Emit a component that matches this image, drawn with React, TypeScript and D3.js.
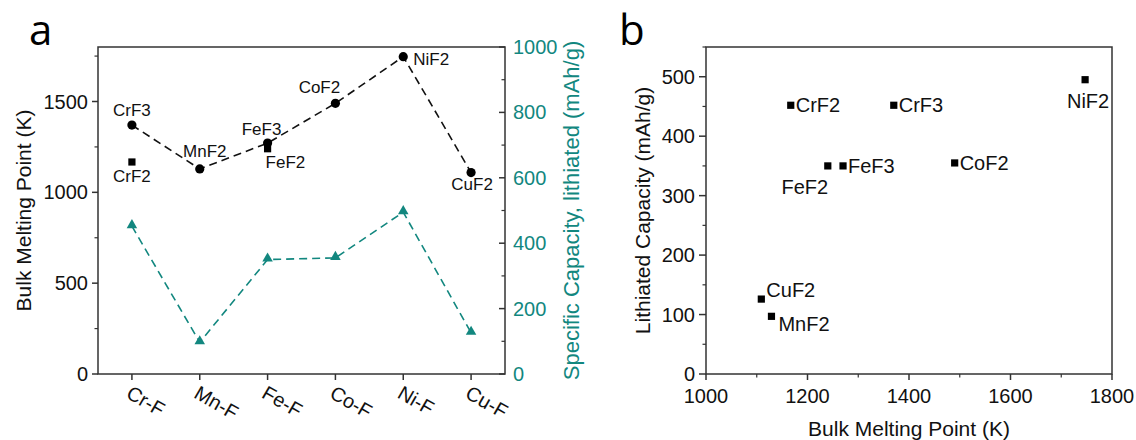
import React from "react";
import * as d3 from "d3";

// panel a
const categories = ["Cr-F", "Mn-F", "Fe-F", "Co-F", "Ni-F", "Cu-F"];
const lineNames = ["CrF3", "MnF2", "FeF3", "CoF2", "NiF2", "CuF2"];
const lineMelt = [1370, 1129, 1271, 1490, 1747, 1109];
const extraNames = ["CrF2", "FeF2"];
const extraCats = ["Cr-F", "Fe-F"];
const extraMelt = [1167, 1240];
const capacity = [452, 97, 350, 355, 495, 126];

// panel b
const compounds = ["CrF2", "CrF3", "MnF2", "FeF2", "FeF3", "CoF2", "NiF2", "CuF2"];
const bMelt = [1167, 1370, 1129, 1240, 1270, 1490, 1747, 1109];
const bCap = [452, 452, 97, 350, 350, 355, 495, 126];

const TEAL = "#12877f";
const FONT = "'Liberation Sans', Arial, sans-serif";

// label offsets (dx, dy, anchor)
const aLabel: Record<string, [number, number, string]> = {
  CrF3: [0, -9, "middle"],
  CrF2: [0, 20, "middle"],
  MnF2: [5, -12, "middle"],
  FeF3: [-6, -8, "middle"],
  FeF2: [-2, 19, "start"],
  CoF2: [-16, -10, "middle"],
  NiF2: [10, 8, "start"],
  CuF2: [1, 17, "middle"],
};
const bLabel: Record<string, [number, number, string]> = {
  CrF2: [5, 7, "start"],
  CrF3: [5, 7, "start"],
  NiF2: [3, 28, "middle"],
  FeF3: [5, 7, "start"],
  FeF2: [-23, 28, "middle"],
  CoF2: [5, 7, "start"],
  CuF2: [5, -2, "start"],
  MnF2: [7, 15, "start"],
};

function App() {
  const A = { l: 98, r: 505, t: 47, b: 374 };
  const B = { l: 706, r: 1112, t: 47, b: 374 };

  const x = d3.scalePoint().domain(categories).range([A.l, A.r]).padding(0.5);
  const yL = d3.scaleLinear().domain([0, 1800]).range([A.b, A.t]);
  const yR = d3.scaleLinear().domain([0, 1000]).range([A.b, A.t]);

  const bx = d3.scaleLinear().domain([1000, 1800]).range([B.l, B.r]);
  const by = d3.scaleLinear().domain([0, 550]).range([B.b, B.t]);

  const meltPath = d3
    .line<number>()
    .x((_, i) => x(categories[i])!)
    .y((d) => yL(d))(lineMelt);
  const capPath = d3
    .line<number>()
    .x((_, i) => x(categories[i])!)
    .y((d) => yR(d))(capacity);
  const tri = d3.symbol(d3.symbolTriangle, 48)();

  const leftMajor = [0, 500, 1000, 1500];
  const leftMinor = [250, 750, 1250, 1750];
  const rightMajor = yR.ticks(5);
  const rightMinor = rightMajor.slice(0, -1).map((v) => v + 100);
  const bYMajor = by.ticks(5).filter((v) => v <= 500);
  const bYMinor = bYMajor.map((v) => v + 50);
  const bXMajor = bx.ticks(4);
  const bXMinor = bXMajor.slice(0, -1).map((v) => v + 100);

  const txt = { fontFamily: FONT, fill: "#111" };
  const letterFont = "'Open Sans', 'DejaVu Sans', sans-serif";

  return (
    <svg
      width={1136}
      height={440}
      style={{ position: "absolute", left: 0, top: 0, background: "#fff" }}
    >
      {/* panel letters */}
      <text x={29} y={45} fontSize={42} fontFamily={letterFont} fill="#000">
        a
      </text>
      <text x={619} y={45} fontSize={42} fontFamily={letterFont} fill="#000">
        b
      </text>

      {/* ===== panel a ===== */}
      <rect x={A.l} y={A.t} width={A.r - A.l} height={A.b - A.t} fill="none" stroke="#333" strokeWidth={1.5} />
      {leftMajor.map((v) => (
        <g key={"lm" + v}>
          <line x1={A.l - 6} x2={A.l} y1={yL(v)} y2={yL(v)} stroke="#333" strokeWidth={1.5} />
          <text {...txt} x={A.l - 10} y={yL(v) + 7} fontSize={20} textAnchor="end">
            {v}
          </text>
        </g>
      ))}
      {leftMinor.map((v) => (
        <line key={"ln" + v} x1={A.l - 3.5} x2={A.l} y1={yL(v)} y2={yL(v)} stroke="#333" strokeWidth={1.2} />
      ))}
      {rightMajor.map((v) => (
        <g key={"rm" + v}>
          <line x1={A.r - 6} x2={A.r} y1={yR(v)} y2={yR(v)} stroke="#333" strokeWidth={1.5} />
          <text x={A.r + 8} y={yR(v) + 7} fontSize={20} fontFamily={FONT} fill={TEAL}>
            {v}
          </text>
        </g>
      ))}
      {rightMinor.map((v) => (
        <line key={"rn" + v} x1={A.r - 3.5} x2={A.r} y1={yR(v)} y2={yR(v)} stroke="#333" strokeWidth={1.2} />
      ))}
      {categories.map((c) => (
        <g key={c}>
          <line x1={x(c)} x2={x(c)} y1={A.b} y2={A.b + 6} stroke="#333" strokeWidth={1.5} />
          <text
            {...txt}
            fontSize={20}
            transform={`translate(${x(c)! - 7},${A.b + 23}) rotate(30)`}
          >
            {c}
          </text>
        </g>
      ))}
      <text
        {...txt}
        fontSize={21}
        textAnchor="middle"
        transform={`translate(31,${(A.t + A.b) / 2}) rotate(-90)`}
      >
        Bulk Melting Point (K)
      </text>
      <text
        fontFamily={FONT}
        fill={TEAL}
        fontSize={22}
        textAnchor="middle"
        transform={`translate(579,${(A.t + A.b) / 2}) rotate(-90)`}
      >
        Specific Capacity, lithiated (mAh/g)
      </text>

      <path d={capPath!} fill="none" stroke={TEAL} strokeWidth={1.6} strokeDasharray="8 5" />
      {capacity.map((v, i) => (
        <path key={"t" + i} d={tri!} transform={`translate(${x(categories[i])},${yR(v) - 1})`} fill={TEAL} />
      ))}

      <path d={meltPath!} fill="none" stroke="#111" strokeWidth={1.6} strokeDasharray="8 5" />
      {lineMelt.map((v, i) => (
        <circle key={"c" + i} cx={x(categories[i])} cy={yL(v)} r={4.6} fill="#000" />
      ))}
      {extraMelt.map((v, i) => (
        <rect key={"s" + i} x={x(extraCats[i])! - 3.6} y={yL(v) - 3.6} width={7.2} height={7.2} fill="#000" />
      ))}
      {lineMelt.map((v, i) => {
        const [dx, dy, an] = aLabel[lineNames[i]];
        return (
          <text key={"la" + i} {...txt} fontSize={17} x={x(categories[i])! + dx} y={yL(v) + dy} textAnchor={an}>
            {lineNames[i]}
          </text>
        );
      })}
      {extraMelt.map((v, i) => {
        const [dx, dy, an] = aLabel[extraNames[i]];
        return (
          <text key={"le" + i} {...txt} fontSize={17} x={x(extraCats[i])! + dx} y={yL(v) + dy} textAnchor={an}>
            {extraNames[i]}
          </text>
        );
      })}

      {/* ===== panel b ===== */}
      <rect x={B.l} y={B.t} width={B.r - B.l} height={B.b - B.t} fill="none" stroke="#333" strokeWidth={1.5} />
      {bYMajor.map((v) => (
        <g key={"bym" + v}>
          <line x1={B.l - 7} x2={B.l} y1={by(v)} y2={by(v)} stroke="#333" strokeWidth={1.5} />
          <text {...txt} x={B.l - 11} y={by(v) + 7} fontSize={20} textAnchor="end">
            {v}
          </text>
        </g>
      ))}
      {bYMinor.map((v) => (
        <line key={"byn" + v} x1={B.l - 3.5} x2={B.l} y1={by(v)} y2={by(v)} stroke="#333" strokeWidth={1.2} />
      ))}
      {bXMajor.map((v) => (
        <g key={"bxm" + v}>
          <line x1={bx(v)} x2={bx(v)} y1={B.b} y2={B.b + 6} stroke="#333" strokeWidth={1.5} />
          <text {...txt} x={bx(v)} y={B.b + 29} fontSize={20} textAnchor="middle">
            {v}
          </text>
        </g>
      ))}
      {bXMinor.map((v) => (
        <line key={"bxn" + v} x1={bx(v)} x2={bx(v)} y1={B.b} y2={B.b + 3.5} stroke="#333" strokeWidth={1.2} />
      ))}
      <text
        {...txt}
        fontSize={21}
        textAnchor="middle"
        transform={`translate(650,${(B.t + B.b) / 2}) rotate(-90)`}
      >
        Lithiated Capacity (mAh/g)
      </text>
      <text {...txt} fontSize={21} textAnchor="middle" x={(B.l + B.r) / 2} y={436}>
        Bulk Melting Point (K)
      </text>
      {compounds.map((n, i) => {
        const [dx, dy, an] = bLabel[n];
        return (
          <g key={n}>
            <rect x={bx(bMelt[i]) - 3.6} y={by(bCap[i]) - 3.6} width={7.2} height={7.2} fill="#000" />
            <text {...txt} fontSize={20} x={bx(bMelt[i]) + dx} y={by(bCap[i]) + dy} textAnchor={an}>
              {n}
            </text>
          </g>
        );
      })}
    </svg>
  );
}

export default App;
